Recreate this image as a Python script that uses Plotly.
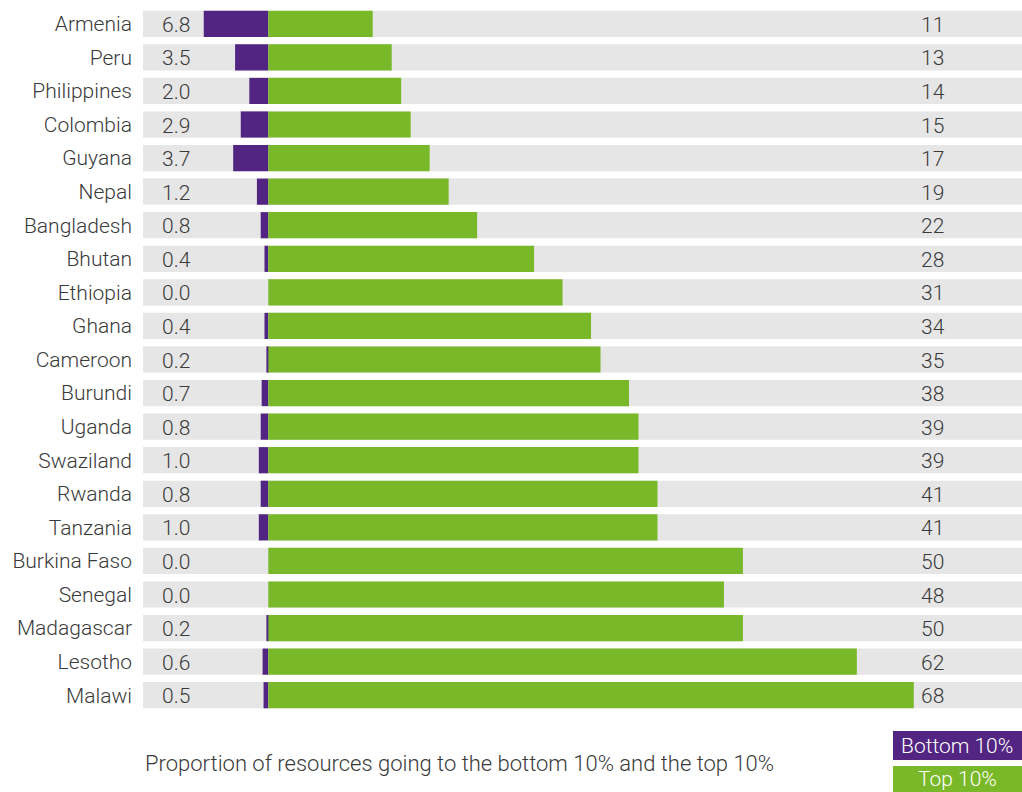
import plotly.graph_objects as go

countries = ["Armenia", "Peru", "Philippines", "Colombia", "Guyana", "Nepal", "Bangladesh",
             "Bhutan", "Ethiopia", "Ghana", "Cameroon", "Burundi", "Uganda", "Swaziland",
             "Rwanda", "Tanzania", "Burkina Faso", "Senegal", "Madagascar", "Lesotho", "Malawi"]
bottom10 = [6.8, 3.5, 2.0, 2.9, 3.7, 1.2, 0.8, 0.4, 0.0, 0.4, 0.2, 0.7, 0.8, 1.0, 0.8, 1.0,
            0.0, 0.0, 0.2, 0.6, 0.5]
top10 = [11, 13, 14, 15, 17, 19, 22, 28, 31, 34, 35, 38, 39, 39, 41, 41, 50, 48, 50, 62, 68]

XMIN, XMAX = -13.2, 79.4
PURPLE = "#522582"
GREEN = "#79b829"
GRAY = "#e6e6e6"
TXT = "#3a3a3a"
FONT = "Roboto"
FS = 21

n = len(countries)
fig = go.Figure()
fig.add_trace(go.Bar(y=countries, x=[XMAX - XMIN] * n, base=XMIN,
                     orientation="h", marker=dict(color=GRAY, line_width=0),
                     hoverinfo="skip", showlegend=False))
fig.add_trace(go.Bar(y=countries, x=[-v for v in bottom10], orientation="h",
                     marker=dict(color=PURPLE, line_width=0), name="Bottom 10%",
                     showlegend=False))
fig.add_trace(go.Bar(y=countries, x=top10, orientation="h",
                     marker=dict(color=GREEN, line_width=0), name="Top 10%",
                     showlegend=False))

value_font = dict(family=FONT, size=FS, color=TXT, weight=300)
value_labels = []
for c, b, t in zip(countries, bottom10, top10):
    value_labels.append(dict(x=-9.7, y=c, xref="x", yref="y", text=f"{b:.1f}",
                             xanchor="center", yanchor="middle", showarrow=False,
                             yshift=-1, font=value_font))
    value_labels.append(dict(x=68.6, y=c, xref="x", yref="y", text=str(t),
                             xanchor="left", yanchor="middle", showarrow=False,
                             yshift=-1, font=value_font))

PW, PH, L, T = 879, 705, 143, 7
def px(x):
    return (x - L) / PW
def py(y):
    return 1 - (y - T) / PH

fig.update_layout(
    width=1022, height=792,
    margin=dict(l=L, r=0, t=T, b=792 - T - PH),
    barmode="overlay", bargap=0.22,
    plot_bgcolor="white", paper_bgcolor="white",
    font=dict(family=FONT, size=FS, color=TXT, weight=300),
    xaxis=dict(range=[XMIN, XMAX], visible=False, fixedrange=True),
    yaxis=dict(range=[n - 0.5, -0.5], autorange=False, showgrid=False, zeroline=False,
               showline=False, ticks="", ticklabelstandoff=10,
               tickfont=dict(family=FONT, size=FS, color=TXT, weight=300)),
    shapes=[
        dict(type="rect", xref="paper", yref="paper", x0=px(893), x1=1.0,
             y0=py(731), y1=py(760), fillcolor=PURPLE, line_width=0),
        dict(type="rect", xref="paper", yref="paper", x0=px(893), x1=1.0,
             y0=py(766), y1=py(792), fillcolor=GREEN, line_width=0),
    ],
    annotations=value_labels + [
        dict(text="Proportion of resources going to the bottom 10% and the top 10%",
             xref="paper", yref="paper", x=0, y=py(763), xanchor="left",
             yanchor="middle", showarrow=False,
             font=dict(family=FONT, size=22, color=TXT, weight=300)),
        dict(text="Bottom 10%", xref="paper", yref="paper", x=px(957),
             y=py(746), xanchor="center", yanchor="middle", showarrow=False,
             font=dict(family=FONT, size=FS, color="white", weight=300)),
        dict(text="Top 10%", xref="paper", yref="paper", x=px(957),
             y=py(779), xanchor="center", yanchor="middle", showarrow=False,
             font=dict(family=FONT, size=FS, color="white", weight=300)),
    ],
)

fig.write_html("out.html", config={"displayModeBar": False},
               post_script="document.body.style.margin='0';")
